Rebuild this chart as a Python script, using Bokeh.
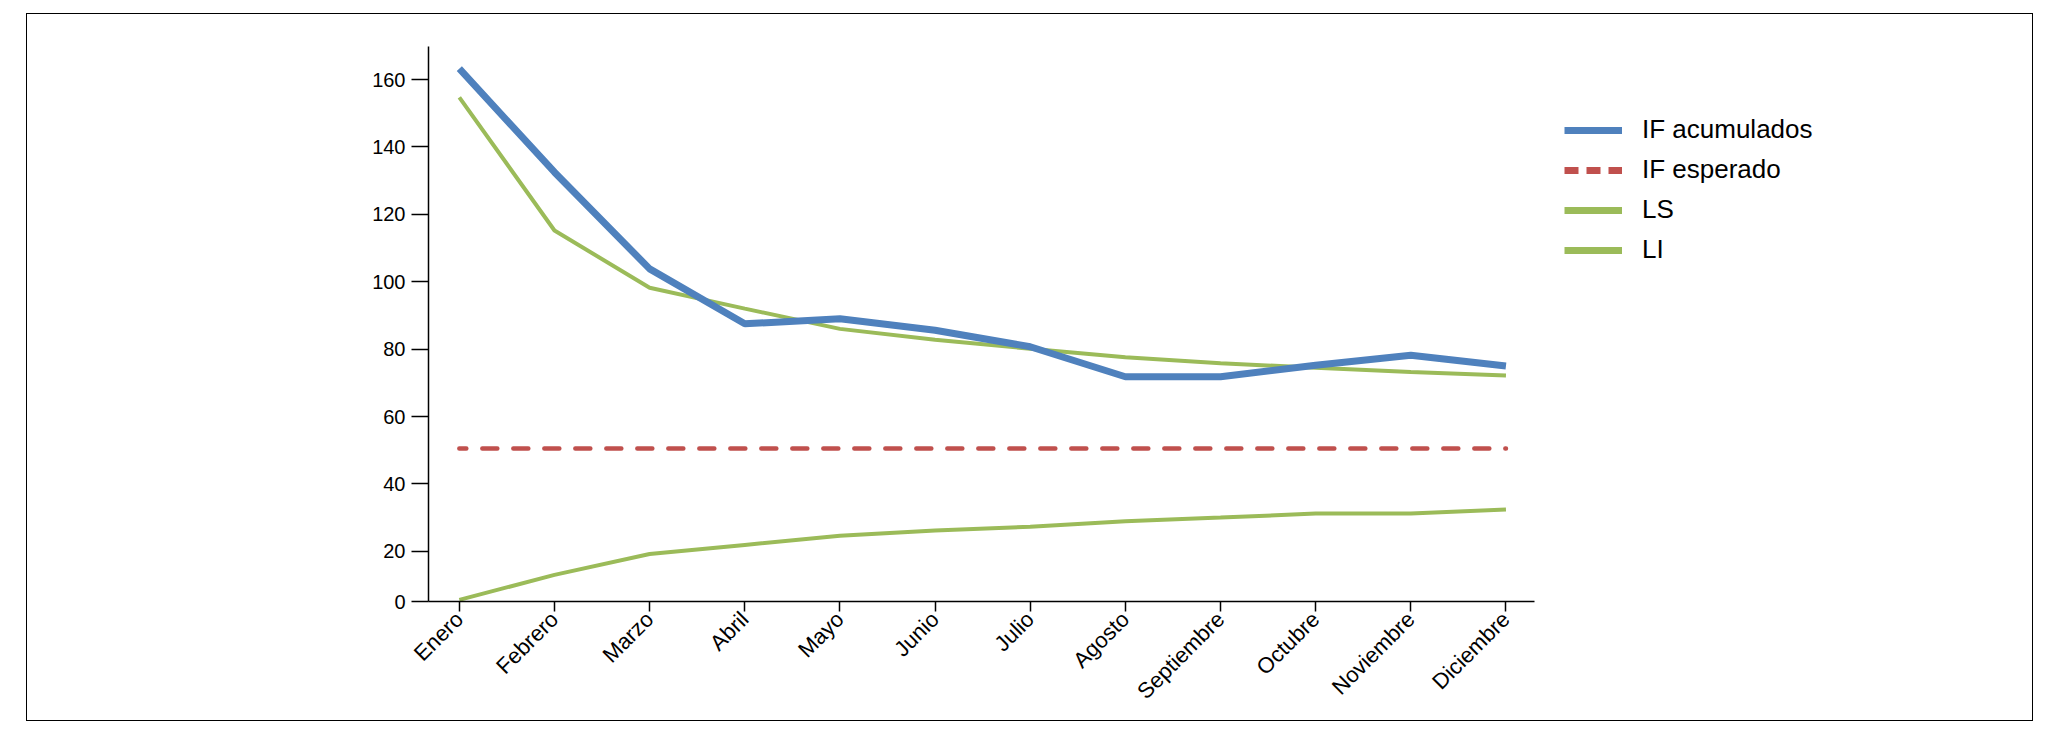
import math
from bokeh.plotting import figure
from bokeh.models import Range1d, FixedTicker, Legend, LegendItem
from bokeh.embed import file_html
from bokeh.resources import INLINE

meses = ["Enero", "Febrero", "Marzo", "Abril", "Mayo", "Junio", "Julio",
         "Agosto", "Septiembre", "Octubre", "Noviembre", "Diciembre"]
if_acumulados = [163.2, 132.5, 103.8, 87.5, 89.0, 85.6, 80.7, 71.8, 71.8, 75.2, 78.2, 75.0]
if_esperado = [50.5, 50.5, 50.5, 50.5, 50.5, 50.5, 50.5, 50.5, 50.5, 50.5, 50.5, 50.5]
ls = [154.7, 115.2, 98.2, 92.0, 86.0, 82.8, 80.1, 77.6, 75.8, 74.5, 73.2, 72.2]
li = [5.6, 13.0, 19.2, 21.9, 24.6, 26.2, 27.3, 28.9, 30.0, 31.2, 31.2, 32.4]
y_ticks = [5.1, 20, 40, 60, 80, 100, 120, 140, 160]
y_tick_labels = ["0", "20", "40", "60", "80", "100", "120", "140", "160"]

x = list(range(len(meses)))

BLUE = "#4F81BD"
RED = "#C0504D"
GREEN = "#9BBB59"
FONT = "Liberation Sans"
NAN = float("nan")

# the frame also covers the legend area; the x axis itself is bounded
X_START, X_END = -0.324, 11.30
FRAME_W = 1604
x_range_end = X_START + FRAME_W * (X_END - X_START) / 1106

p = figure(frame_width=FRAME_W, frame_height=555,
           min_border_left=401, min_border_right=0,
           min_border_top=32, min_border_bottom=119,
           x_range=Range1d(X_START, x_range_end), y_range=Range1d(5.1, 169.8),
           output_backend="svg", toolbar_location=None)
p.styles = {"margin-left": "26px", "margin-top": "12.5px", "border": "1.5px solid #000"}
p.outline_line_color = None
p.xgrid.visible = False
p.ygrid.visible = False

p.line(x, ls, line_color=GREEN, line_width=4)
p.line(x, li, line_color=GREEN, line_width=4)
p.line(x, if_esperado, line_color=RED, line_width=4.5, line_dash="15 16",
       line_dash_offset=8, line_cap="round")
p.line(x, if_acumulados, line_color=BLUE, line_width=7)

# legend-only renderers (thicker samples, as in the reference legend)
lg_blue = p.line([NAN], [NAN], line_color=BLUE, line_width=7)
lg_red = p.line([NAN], [NAN], line_color=RED, line_width=7, line_dash="14 8")
lg_ls = p.line([NAN], [NAN], line_color=GREEN, line_width=7)
lg_li = p.line([NAN], [NAN], line_color=GREEN, line_width=7)

legend = Legend(items=[
    LegendItem(label="IF acumulados", renderers=[lg_blue]),
    LegendItem(label="IF esperado", renderers=[lg_red]),
    LegendItem(label="LS", renderers=[lg_ls]),
    LegendItem(label="LI", renderers=[lg_li]),
], location=(1136, 331), orientation="vertical",
    glyph_width=58, glyph_height=40, label_height=40, spacing=0,
    padding=0, margin=0, label_standoff=20,
    label_text_font=FONT, label_text_font_size="26px", label_text_color="black",
    border_line_color=None, background_fill_alpha=0)
p.add_layout(legend)

# axes
p.xaxis.bounds = (X_START, X_END)
p.xaxis.ticker = FixedTicker(ticks=x)
p.xaxis.major_label_overrides = {i: m for i, m in zip(x, meses)}
p.xaxis.major_label_orientation = math.pi / 4
p.xaxis.major_tick_out = 10
p.xaxis.major_tick_in = 0
p.xaxis.major_label_standoff = 4

p.yaxis.ticker = FixedTicker(ticks=y_ticks)
p.yaxis.major_label_overrides = {t: l for t, l in zip(y_ticks, y_tick_labels)}
p.yaxis.major_tick_out = 17
p.yaxis.major_tick_in = 0
p.yaxis.major_label_standoff = 6

for ax in (p.xaxis, p.yaxis):
    ax.minor_tick_line_color = None
    ax.axis_line_width = 1.5
    ax.axis_line_color = "black"
    ax.major_tick_line_width = 1.5
    ax.major_tick_line_color = "black"
    ax.major_label_text_font = FONT
    ax.major_label_text_color = "black"
p.xaxis.major_label_text_font_size = "22px"
p.yaxis.major_label_text_font_size = "20px"

open("out.html", "w").write(file_html(p, INLINE))
